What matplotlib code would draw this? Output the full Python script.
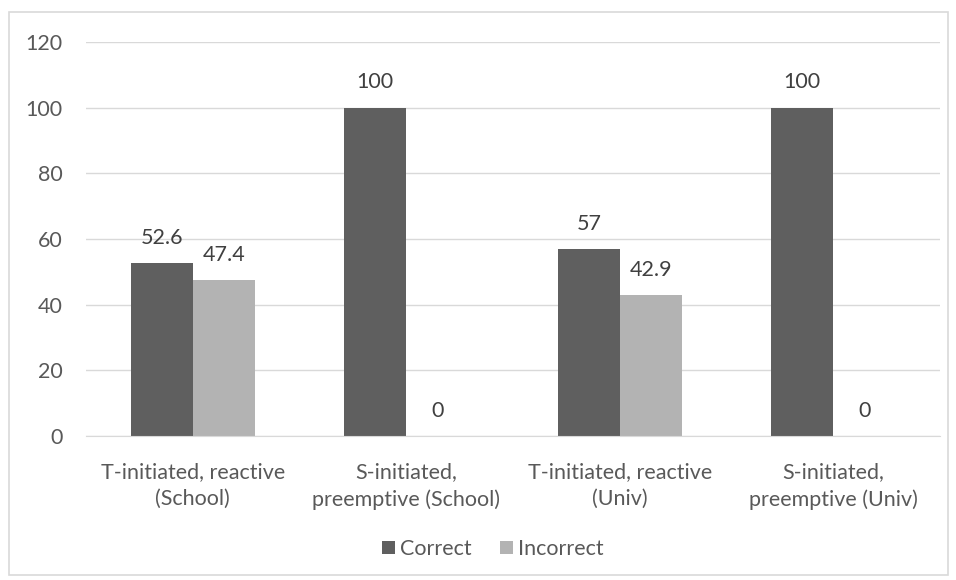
import matplotlib.pyplot as plt
from matplotlib.patches import Rectangle
import numpy as np

# Data
categories = ["T-initiated, reactive\n(School)", "S-initiated,\npreemptive (School)",
              "T-initiated, reactive\n(Univ)", "S-initiated,\npreemptive (Univ)"]
correct = [52.6, 100, 57, 100]
incorrect = [47.4, 0, 42.9, 0]
correct_labels = ["52.6", "100", "57", "100"]
incorrect_labels = ["47.4", "0", "42.9", "0"]

plt.rcParams['font.family'] = ['Lato', 'DejaVu Sans']
text_col = "#595959"
fs = 15.5

fig = plt.figure(figsize=(9.56, 5.8), dpi=100)
# outer chart border like Excel
fig.patches.append(Rectangle((9 / 956, 5 / 580), 939 / 956, 563 / 580, transform=fig.transFigure,
                             fill=False, edgecolor="#d9d9d9", linewidth=1.2))

ax = fig.add_axes([86 / 956, 1 - 436 / 580, (940 - 86) / 956, (436 - 42) / 580])

x = np.arange(len(categories))
w = 0.29
b1 = ax.bar(x - w / 2, correct, w, color="#5f5f5f", label="Correct")
b2 = ax.bar(x + w / 2, incorrect, w, color="#b3b3b3", label="Incorrect")

for rect, lab in zip(b1, correct_labels):
    ax.annotate(lab, (rect.get_x() + rect.get_width() / 2, rect.get_height()),
                xytext=(0, 11), textcoords="offset points", ha="center", va="bottom",
                fontsize=fs, color="#404040")
for rect, lab in zip(b2, incorrect_labels):
    ax.annotate(lab, (rect.get_x() + rect.get_width() / 2, rect.get_height()),
                xytext=(0, 11), textcoords="offset points", ha="center", va="bottom",
                fontsize=fs, color="#404040")

ax.set_xlim(-0.5, 3.5)
ax.set_ylim(0, 120)
ax.set_yticks(range(0, 121, 20))
ax.set_xticks(x)
ax.set_xticklabels(categories, linespacing=1.4)
ax.grid(axis="y", color="#d9d9d9", linewidth=1)
ax.set_axisbelow(True)
for s in ["top", "right", "left"]:
    ax.spines[s].set_visible(False)
ax.spines["bottom"].set_color("#d9d9d9")
ax.tick_params(axis="both", length=0, labelsize=fs, labelcolor=text_col)
ax.tick_params(axis="y", pad=17)
ax.tick_params(axis="x", pad=19)

fig.legend(loc="center", bbox_to_anchor=(493 / 956, 1 - 549 / 580), ncol=2, frameon=False,
           fontsize=fs, labelcolor=text_col, handlelength=0.6, handleheight=0.6,
           handletextpad=0.25, columnspacing=1.3)

fig.savefig("out.png", dpi=100)
